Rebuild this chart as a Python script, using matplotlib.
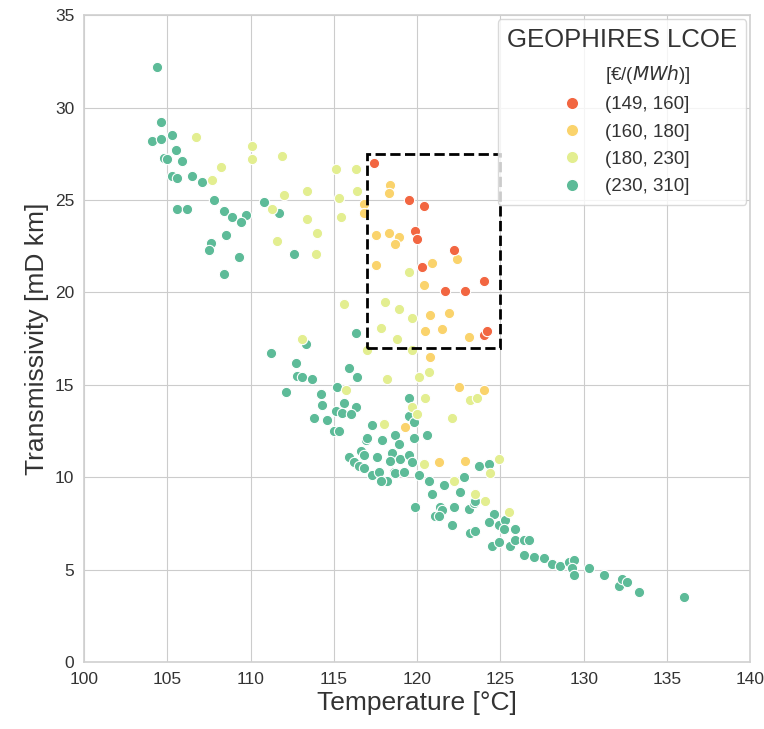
import matplotlib
matplotlib.use("Agg")
import matplotlib.pyplot as plt
import seaborn as sns
from matplotlib.patches import Rectangle
from matplotlib.lines import Line2D

# LCOE classes and colours
classes = ["(149, 160]", "(160, 180]", "(180, 230]", "(230, 310]"]
class_colors = ["#f26641", "#fad36c", "#e3ee90", "#5dbb98"]

# (149, 160]
red_T = [117.4, 119.5, 120.4, 119.9, 120.0, 122.2, 120.3, 124.0, 121.7, 122.9, 124.0, 124.2]
red_Y = [27.0, 25.0, 24.7, 23.3, 22.9, 22.3, 21.4, 20.6, 20.1, 20.1, 17.7, 17.9]

# (160, 180]
orange_T = [116.8, 116.8, 118.4, 118.3, 117.5, 118.3, 118.9, 118.7, 122.4, 117.5, 120.9, 120.4,
            120.8, 121.9, 120.5, 121.5, 123.1, 120.8, 122.5, 124.0, 119.3, 121.3, 122.9]
orange_Y = [24.8, 24.3, 25.8, 25.4, 23.1, 23.2, 23.0, 22.6, 21.8, 21.5, 21.6, 20.4,
            18.8, 18.9, 17.9, 18.0, 17.6, 16.5, 14.9, 14.7, 12.7, 10.8, 10.9]

# (180, 230]
yellow_T = [106.7, 110.1, 110.1, 111.9, 108.2, 107.7, 112.0, 111.3, 111.6, 115.1, 116.3, 116.4,
            115.3, 113.4, 113.4, 115.4, 114.0, 113.9, 115.6, 118.1, 118.9, 119.7, 117.8, 118.8,
            117.0, 119.7, 119.5, 113.1, 115.7, 120.7, 120.1, 118.2, 123.2, 123.6, 120.5, 119.7,
            120.0, 122.1, 118.0, 120.4, 122.2, 124.9, 123.5, 124.1, 125.5, 124.4]
yellow_Y = [28.4, 27.9, 27.2, 27.4, 26.8, 26.1, 25.3, 24.5, 22.8, 26.7, 26.7, 25.5,
            25.1, 25.5, 24.0, 24.1, 23.2, 22.1, 19.4, 19.5, 19.1, 18.6, 18.1, 17.5,
            16.9, 16.9, 21.1, 17.5, 14.7, 15.7, 15.4, 15.3, 14.2, 14.3, 14.3, 13.8,
            13.4, 13.2, 12.9, 10.7, 9.8, 11.0, 9.1, 8.7, 8.1, 10.2]

# (230, 310]
teal_T = [104.4, 104.6, 104.1, 104.6, 105.3, 105.5, 104.8, 105.0, 105.9, 105.3, 105.6, 106.5,
          107.1, 107.8, 110.8, 111.7, 105.6, 106.2, 108.4, 108.9, 109.7, 109.4, 108.5, 107.6,
          107.5, 109.3, 112.6, 108.4,
          116.3, 113.3, 111.2, 112.7, 115.9, 112.8, 113.1, 113.7, 116.4, 115.2, 112.1, 114.2,
          119.5, 114.3, 115.6, 116.3, 115.1, 115.5, 116.0, 113.8, 114.6, 115.0, 115.3, 117.3,
          119.5, 119.8, 118.7, 120.6, 116.9, 117.0, 117.9, 119.8, 118.9, 115.9, 116.6, 116.8,
          117.6, 118.5, 118.4, 119.0, 119.5, 119.7, 116.2, 116.5, 116.8, 117.3, 117.7, 118.2,
          117.8, 118.6, 118.7, 119.2, 120.1, 120.7, 121.6, 122.8, 123.7, 124.3, 120.9, 122.6,
          119.9, 121.4, 121.5, 122.2, 123.1, 123.4, 123.5, 121.1, 121.3, 122.1, 123.2, 123.5,
          124.6, 124.3, 124.9, 125.3, 125.2, 125.9, 124.5, 124.9, 125.6, 125.9, 126.4, 126.7,
          126.4, 127.0, 127.6, 128.1, 128.6, 129.1, 129.4, 129.3, 129.4, 130.3, 131.2, 132.1,
          132.3, 132.6, 133.3, 136.0]
teal_Y = [32.2, 29.2, 28.2, 28.3, 28.5, 27.7, 27.3, 27.2, 27.1, 26.3, 26.2, 26.3,
          26.0, 25.0, 24.9, 24.3, 24.5, 24.5, 24.4, 24.1, 24.2, 23.8, 23.1, 22.7,
          22.3, 21.9, 22.1, 21.0,
          17.8, 17.2, 16.7, 16.2, 15.9, 15.5, 15.4, 15.3, 15.4, 14.9, 14.6, 14.5,
          14.3, 13.9, 14.0, 13.8, 13.6, 13.5, 13.4, 13.2, 13.1, 12.5, 12.5, 12.8,
          13.3, 13.0, 12.3, 12.3, 12.0, 12.1, 12.0, 12.1, 11.8, 11.1, 11.4, 11.2,
          11.1, 11.3, 10.9, 11.0, 11.2, 10.8, 10.8, 10.6, 10.5, 10.1, 10.3, 9.8,
          9.8, 10.3, 10.2, 10.3, 10.1, 9.8, 9.6, 10.0, 10.6, 10.7, 9.1, 9.2,
          8.4, 8.4, 8.2, 8.4, 8.3, 8.6, 8.7, 7.9, 7.9, 7.4, 7.0, 7.1,
          8.0, 7.6, 7.4, 7.7, 7.2, 7.2, 6.3, 6.5, 6.3, 6.6, 6.6, 6.6,
          5.8, 5.7, 5.6, 5.3, 5.2, 5.4, 5.5, 5.1, 4.7, 5.1, 4.7, 4.1,
          4.5, 4.3, 3.8, 3.5]

series = [(red_T, red_Y), (orange_T, orange_Y), (yellow_T, yellow_Y), (teal_T, teal_Y)]

sns.set_style("whitegrid")
plt.rcParams['font.family'] = ['Liberation Sans', 'DejaVu Sans']

fig = plt.figure(figsize=(7.64, 7.29), dpi=100)
ax = fig.add_axes([0.110, 0.092, 0.872, 0.887])

# draw the larger-LCOE groups first so the cheap ones sit on top
for (t, y), c in reversed(list(zip(series, class_colors))):
    ax.scatter(t, y, s=55, color=c, edgecolor='white', linewidth=0.8, zorder=3)

# region of interest
ax.add_patch(Rectangle((117, 17), 8, 10.5, fill=False, edgecolor='black',
                       linestyle='--', linewidth=2, zorder=4))

ax.set_xlim(100, 140)
ax.set_ylim(0, 35)
ax.set_xticks(range(100, 141, 5))
ax.set_yticks(range(0, 36, 5))
ax.tick_params(labelsize=12.5, colors='#333333')
ax.set_xlabel('Temperature [°C]', fontsize=19, color='#333333', labelpad=3)
ax.set_ylabel('Transmissivity [mD km]', fontsize=19, color='#333333')
for sp in ax.spines.values():
    sp.set_color('#d0d0d0')
    sp.set_linewidth(1.2)

handles = [Line2D([], [], linestyle='none', marker=None)]
labels = ['[€/($MWh$)]']
for lab, c in zip(classes, class_colors):
    handles.append(Line2D([], [], linestyle='none', marker='o', markersize=9,
                          markerfacecolor=c, markeredgecolor='white'))
    labels.append(lab)
leg = ax.legend(handles, labels, title='GEOPHIRES LCOE', loc='upper right',
                fontsize=13.5, title_fontsize=18.5, frameon=True, borderaxespad=0.2,
                labelspacing=0.55, borderpad=0.5)
leg.get_frame().set_edgecolor('#d0d0d0')
for txt in leg.get_texts():
    txt.set_color('#333333')
leg.get_title().set_color('#333333')

fig.savefig('out.png', dpi=100)
